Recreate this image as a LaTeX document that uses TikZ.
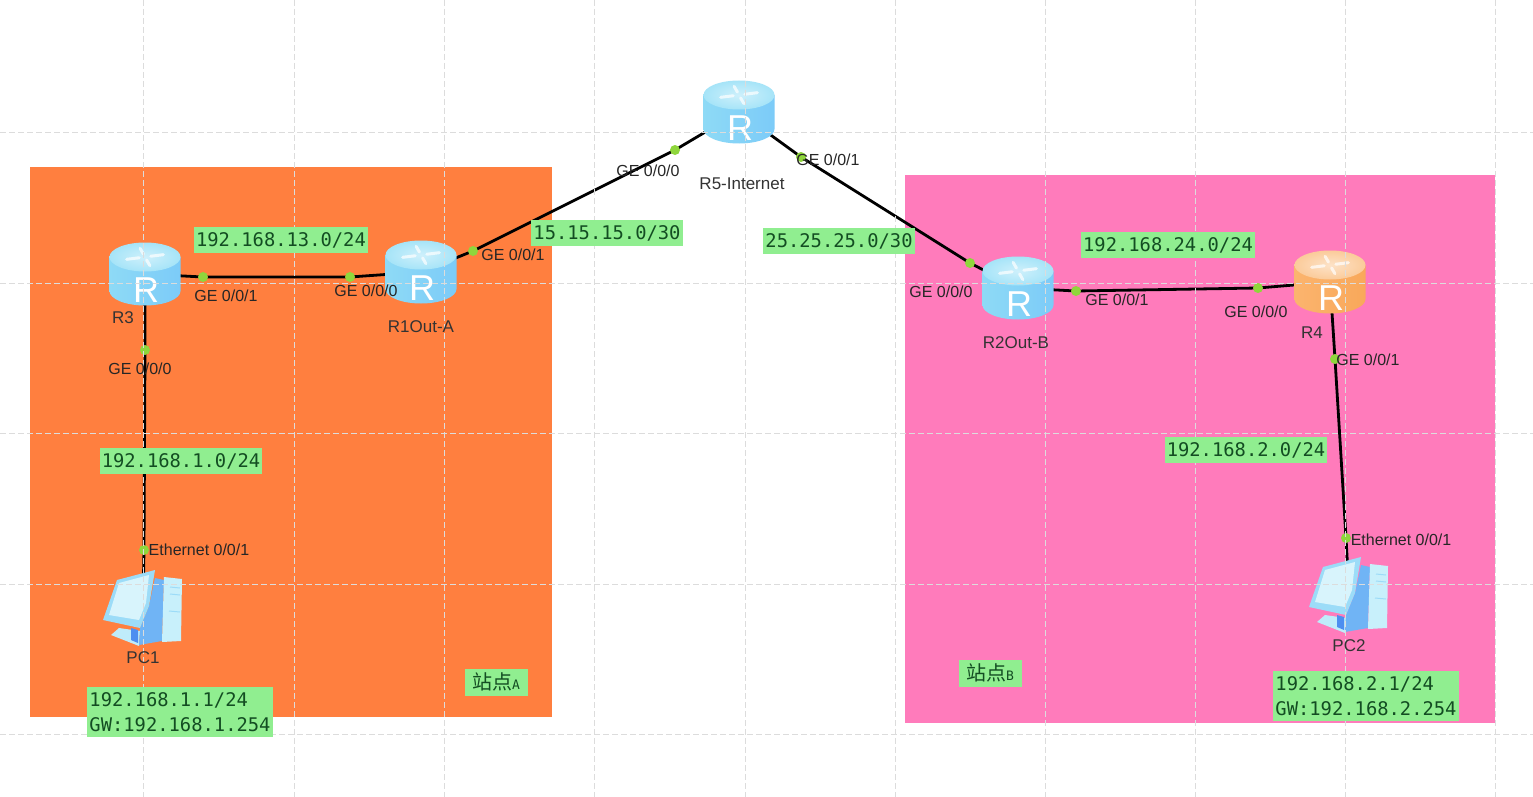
\documentclass[tikz,border=0pt]{standalone}
\usepackage{fontspec}
\setmainfont{Liberation Sans}
\newfontfamily\monofont{DejaVu Sans Mono}
\newfontfamily\cjkfont{Noto Sans CJK SC}
\definecolor{sitea}{HTML}{FF7F3F}
\definecolor{siteb}{HTML}{FF7BBB}
\definecolor{netgreen}{HTML}{90EE90}
\definecolor{nettext}{HTML}{134D22}
\definecolor{portgreen}{HTML}{8FD63C}
\definecolor{gridgray}{HTML}{DCDCDC}
\definecolor{blueleft}{HTML}{8EDAF6}
\definecolor{bluemid}{HTML}{66B8F6}
\definecolor{blueright}{HTML}{7CCBF8}
\definecolor{bluetop}{HTML}{A6E4F8}
\definecolor{orangeleft}{HTML}{FBB46E}
\definecolor{orangemid}{HTML}{F89C45}
\definecolor{orangeright}{HTML}{F9A85A}
\definecolor{orangetop}{HTML}{FBCB9A}
\definecolor{pcpale}{HTML}{D8F4FC}
\definecolor{pcrim}{HTML}{9CDCF8}
\definecolor{pcside}{HTML}{70B4F5}
\definecolor{pcfront}{HTML}{C8F0FB}
\definecolor{pcneck}{HTML}{4D8EF0}
\pgfdeclarelayer{sites}
\pgfdeclarelayer{links}
\pgfsetlayers{sites,links,main}
\tikzset{
  routerbox/.style={minimum width=71pt,minimum height=63pt,inner sep=0pt},
  pcbox/.style={minimum width=80pt,minimum height=75pt,inner sep=0pt},
  link/.style={line width=2.8pt,black},
  gridline/.style={dash pattern=on 6pt off 3pt,line width=1pt,gridgray},
  portdot/.style={circle,fill=portgreen,minimum size=10pt,inner sep=0pt},
  portname/.style={font=\fontsize{16}{18}\selectfont,text=black!85,inner sep=0pt},
  devname/.style={font=\fontsize{17}{19}\selectfont,text=black!80,inner sep=0pt},
  netlabel/.style={fill=netgreen,text=nettext,font=\monofont\fontsize{18.8}{24.5}\selectfont,
    inner xsep=2pt,inner ysep=1pt,minimum height=26pt,align=left},
  addrlabel/.style={netlabel,minimum height=50pt},
  sitelabel/.style={netlabel,minimum width=63pt,minimum height=27pt},
  pics/routerpic/.style n args={4}{code={
    \shade[left color=#1,middle color=#2,right color=#3]
      (-35.5,-17) -- (-35.5,17) arc[start angle=180,end angle=0,x radius=35.5,y radius=14.5]
      -- (35.5,-17) -- cycle;
    \shade[inner color=#4!55!white,outer color=#4]
      (0,-17) ellipse[x radius=35.5,y radius=14.5];
    \foreach \ang in {15,105,195,285}
      \draw[white,opacity=.7,line width=3pt,line cap=round]
        (0,-17) ++(\ang:6pt and 3pt) -- ++(\ang:13pt and 6pt);
    \node[text=white,font=\fontsize{36}{36}\selectfont,inner sep=0pt] (letter) at (1,16) {R};
  }},
  pics/pcpic/.style={code={
    \fill[pcfront!80!pcrim] (-32,30) -- (-24,23) -- (-3,26) -- (-4,41) -- cycle;
    \fill[pcneck] (-12,23) -- (-5,25) -- (-5,38) -- (-12,35) -- cycle;
    \fill[pcside] (12,-27) -- (21,-25) -- (19,36) -- (-4,40) -- (-3,23) -- (6,1) -- cycle;
    \fill[pcfront] (21,-28) -- (39,-26) -- (38,36) -- (19,37) -- cycle;
    \fill[pcrim] (-26,-25) -- (12,-35) -- (6,1) -- (-3,23) -- (-40,15) -- cycle;
    \fill[pcpale] (-24,-22) -- (6,-30) -- (3,-2) -- (-4,15) -- (-34,10) -- cycle;
    \draw[pcrim,line width=1pt] (27,-18) -- (37,-17) (27,-11) -- (37,-10) (26,6) -- (37,7);
  }}
}
\begin{document}
\begin{tikzpicture}[x=1pt,y=-1pt]
\useasboundingbox (0,0) rectangle (1533,797);
\begin{pgfonlayer}{sites}
  \fill[white] (0,0) rectangle (1533,797);
  \fill[sitea] (30,167) rectangle (552,717);
  \fill[siteb] (905,175) rectangle (1495,723);
\end{pgfonlayer}

% devices
\node[routerbox] (R3) at (145,274) {};
\node[routerbox] (R1) at (421,272) {};
\node[routerbox] (R5) at (739,112) {};
\node[routerbox] (R2) at (1018,288) {};
\node[routerbox] (R4) at (1330,282) {};
\node[pcbox] (PC1) at (143,605) {};
\node[pcbox] (PC2) at (1349,592) {};
\pic (iconR3) at (R3) {routerpic={blueleft}{bluemid}{blueright}{bluetop}};
\pic (iconR1) at (R1) {routerpic={blueleft}{bluemid}{blueright}{bluetop}};
\pic (iconR5) at (R5) {routerpic={blueleft}{bluemid}{blueright}{bluetop}};
\pic (iconR2) at (R2) {routerpic={blueleft}{bluemid}{blueright}{bluetop}};
\pic (iconR4) at (R4) {routerpic={orangeleft}{orangemid}{orangeright}{orangetop}};
\pic (iconPC1) at (PC1) {pcpic};
\pic (iconPC2) at (PC2) {pcpic};

% links
\node[portdot] (r3e1) at (203,277) {};
\node[portdot] (r1e0) at (350,277) {};
\node[portdot] (r3e0) at (145,350) {};
\node[portdot] (pc1e) at (144,550) {};
\node[portdot] (r1e1) at (473,251) {};
\node[portdot] (r5e0) at (675,150) {};
\node[portdot] (r5e1) at (801,157) {};
\node[portdot] (r2e0) at (970,263) {};
\node[portdot] (r2e1) at (1076,291) {};
\node[portdot] (r4e0) at (1258,288) {};
\node[portdot] (r4e1) at (1335,359) {};
\node[portdot] (pc2e) at (1346,538) {};
\begin{pgfonlayer}{links}
  \draw[link] (R3.center) -- (r3e1.center) -- (r1e0.center) -- (R1.center);
  \draw[link] (R3.center) -- (r3e0.center) -- (pc1e.center) -- (PC1.center);
  \draw[link] (R1.center) -- (r1e1.center) -- (r5e0.center) -- (R5.center);
  \draw[link] (R5.center) -- (r5e1.center) -- (r2e0.center) -- (R2.center);
  \draw[link] (R2.center) -- (r2e1.center) -- (r4e0.center) -- (R4.center);
  \draw[link] (R4.center) -- (r4e1.center) -- (pc2e.center) -- (PC2.center);
\end{pgfonlayer}

% grid
\foreach \gx in {143,294,444,594,745,895,1045,1195,1345,1495}
  \draw[gridline] (\gx,0) -- (\gx,797);
\foreach \gy in {133,283,433,584,734}
  \draw[gridline] (0,\gy) -- (1533,\gy);

% names
\node[devname] (nameR3) at (123,318) {R3};
\node[devname] (nameR1) at (421,327) {R1Out-A};
\node[devname] (nameR5) at (742,184) {R5-Internet};
\node[devname] (nameR2) at (1016,343) {R2Out-B};
\node[devname] (nameR4) at (1312,333) {R4};
\node[devname] (namePC1) at (143,658) {PC1};
\node[devname] (namePC2) at (1349,646) {PC2};

\node[portname] (txtr3e1) at (226,296) {GE 0/0/1};
\node[portname] (txtr1e0) at (366,291) {GE 0/0/0};
\node[portname] (txtr3e0) at (140,369) {GE 0/0/0};
\node[portname] (txtr1e1) at (513,255) {GE 0/0/1};
\node[portname] (txtr5e0) at (648,171) {GE 0/0/0};
\node[portname] (txtr5e1) at (828,160) {GE 0/0/1};
\node[portname] (txtr2e0) at (941,292) {GE 0/0/0};
\node[portname] (txtr2e1) at (1117,300) {GE 0/0/1};
\node[portname] (txtr4e0) at (1256,312) {GE 0/0/0};
\node[portname] (txtr4e1) at (1368,360) {GE 0/0/1};
\node[portname] (txtpc1e) at (199,550) {Ethernet 0/0/1};
\node[portname] (txtpc2e) at (1401,540) {Ethernet 0/0/1};

% networks
\node[netlabel] (net13) at (281,240) {192.168.13.0/24};
\node[netlabel] (net15) at (607,233) {15.15.15.0/30};
\node[netlabel] (net25) at (839,241) {25.25.25.0/30};
\node[netlabel] (net24) at (1168,245) {192.168.24.0/24};
\node[netlabel] (net1) at (181,461) {192.168.1.0/24};
\node[netlabel] (net2) at (1246,450) {192.168.2.0/24};
\node[addrlabel] (addrPC1) at (180,712) {192.168.1.1/24\\GW:192.168.1.254};
\node[addrlabel] (addrPC2) at (1366,696) {192.168.2.1/24\\GW:192.168.2.254};
\node[sitelabel] (siteA) at (496,682) {{\cjkfont\fontsize{20}{24}\selectfont 站点}{\fontsize{13}{24}\selectfont A}};
\node[sitelabel] (siteB) at (990,673) {{\cjkfont\fontsize{20}{24}\selectfont 站点}{\fontsize{13}{24}\selectfont B}};
\end{tikzpicture}
\end{document}
